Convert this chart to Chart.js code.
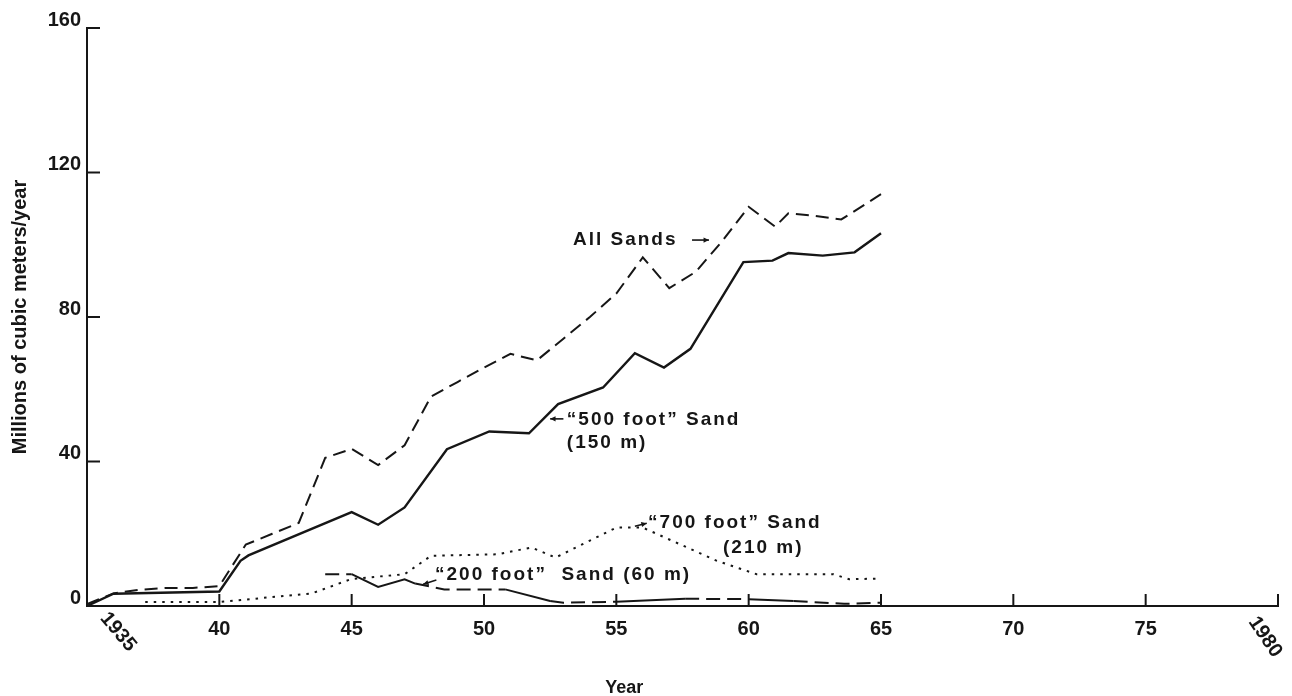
<!DOCTYPE html>
<html><head><meta charset="utf-8">
<script src="https://cdn.jsdelivr.net/npm/chart.js@4.4.1/dist/chart.umd.min.js"></script>
<style>html,body{margin:0;padding:0;background:#fff}#wrap{width:1292px;height:696px;position:relative}</style>
</head><body><div id="wrap"><canvas id="c"></canvas></div>
<script>
// ---- data ----
const xTickYears = [1935, 1940, 1945, 1950, 1955, 1960, 1965, 1970, 1975, 1980];
const yTickValues = [0, 40, 80, 120, 160];

const allSandsYears  = [1935, 1936, 1937, 1938, 1939, 1940, 1941, 1942, 1943, 1944, 1945, 1946, 1947, 1948, 1949, 1950, 1951, 1952, 1953, 1954, 1955, 1956, 1957, 1958, 1959, 1960, 1961, 1961.5, 1962.5, 1963.5, 1965];
const allSandsValues = [0.5, 3.5, 4.5, 5, 5, 5.5, 17, 20, 23, 41, 43.5, 39, 44.5, 58, 62, 66, 69.8, 68, 74, 80, 86.5, 96.5, 88, 92.5, 101, 110.5, 105, 108.7, 108, 107, 114];

const sand500Years  = [1935, 1936, 1940, 1940.8, 1941.1, 1945, 1946, 1947, 1948.6, 1950.2, 1951.7, 1952.8, 1954.5, 1955.7, 1956.8, 1957.8, 1959.8, 1960.9, 1961.5, 1962.8, 1964, 1965];
const sand500Values = [0, 3.4, 4, 12.5, 14, 26, 22.5, 27.3, 43.4, 48.3, 47.8, 55.9, 60.5, 70, 66, 71.2, 95.2, 95.6, 97.7, 97, 97.9, 103.2];

const sand700Years  = [1937.2, 1940, 1943.5, 1945, 1947, 1948, 1950.5, 1951.8, 1952.7, 1955, 1956, 1958.8, 1960.3, 1963.2, 1963.8, 1965];
const sand700Values = [1.1, 1.1, 3.5, 7.5, 8.8, 13.9, 14.3, 16.2, 13.4, 21.7, 21.7, 12.5, 8.8, 8.8, 7.4, 7.6];

const sand200Years  = [1944, 1945, 1946, 1947, 1947.4, 1948.5, 1950.8, 1952.5, 1953, 1955, 1957.6, 1960, 1961.7, 1963.6, 1965];
const sand200Values = [8.8, 8.8, 5.3, 7.4, 6.2, 4.6, 4.6, 1.4, 0.9, 1.2, 2.0, 1.9, 1.4, 0.6, 0.9];

const seriesNames = ['All Sands', '“500 foot” Sand (150 m)', '“700 foot” Sand (210 m)', '“200 foot” Sand (60 m)'];
const xTitle = 'Year';
const yTitle = 'Millions of cubic meters/year';

// ---- helpers ----
const pts = (xs, ys) => xs.map((x, i) => ({x, y: ys[i]}));
const INK = '#161616';
const FONT = "'Liberation Sans', Arial, Helvetica, sans-serif";

// annotation layout (in data coordinates)
const notes = [
  {lines: ['All Sands'], x: 1953.36, y: 101.3, arrow: [1957.86, 101.3, 1958.5, 101.3]},
  {lines: ['“500 foot” Sand', '(150 m)'], x: 1953.13, y: 51.5, dy: 6.4, arrow: [1953.0, 51.8, 1952.5, 51.8]},
  {lines: ['“700 foot” Sand', '(210 m)'], x: 1956.2, y: 23.0, dy: 6.8, second: 1959.03, arrow: [1955.7, 22.1, 1956.15, 22.9]},
  {lines: ['“200 foot”  Sand (60 m)'], x: 1948.15, y: 8.6, arrow: [1948.2, 7.2, 1947.7, 6.0]}
];

const decor = {
  id: 'decor',
  afterDatasetsDraw(chart) {
    const {ctx, chartArea: a, scales: {x, y}} = chart;
    ctx.save();
    ctx.strokeStyle = INK; ctx.fillStyle = INK; ctx.lineWidth = 2;
    // inner tick marks
    x.ticks.forEach(t => {
      if (t.value === 1935) return;
      const px = x.getPixelForValue(t.value);
      ctx.beginPath(); ctx.moveTo(px, a.bottom + 1); ctx.lineTo(px, a.bottom - 12); ctx.stroke();
    });
    y.ticks.forEach(t => {
      if (t.value === 0) return;
      const py = y.getPixelForValue(t.value);
      ctx.beginPath(); ctx.moveTo(a.left - 1, py); ctx.lineTo(a.left + 13, py); ctx.stroke();
    });
    // rotated end labels
    ctx.font = 'bold 20px ' + FONT;
    ctx.textAlign = 'center'; ctx.textBaseline = 'middle';
    [[1935, 31, 632, 50], [1980, -13, 637, 56]].forEach(([v, dx, py, ang]) => {
      ctx.save();
      ctx.translate(x.getPixelForValue(v) + dx, py);
      ctx.rotate(ang * Math.PI / 180);
      ctx.fillText(String(v), 0, 0);
      ctx.restore();
    });
    // x-axis title (offset left of centre as in the original)
    ctx.font = 'bold 18px ' + FONT;
    ctx.fillText(xTitle, x.getPixelForValue(1955.3), 688);
    // annotations
    ctx.font = 'bold 19px ' + FONT;
    try { ctx.letterSpacing = '2px'; } catch (e) {}
    ctx.textAlign = 'left';
    notes.forEach(n => {
      n.lines.forEach((s, i) => {
        const lx = (i === 1 && n.second) ? n.second : n.x;
        ctx.fillText(s, x.getPixelForValue(lx), y.getPixelForValue(n.y - i * (n.dy || 0)));
      });
      if (n.arrow) {
        const [x0, y0, x1, y1] = n.arrow;
        const ax = x.getPixelForValue(x0), ay = y.getPixelForValue(y0);
        const bx = x.getPixelForValue(x1), by = y.getPixelForValue(y1);
        ctx.lineWidth = 1.6;
        ctx.beginPath(); ctx.moveTo(ax, ay); ctx.lineTo(bx, by); ctx.stroke();
        const ang = Math.atan2(by - ay, bx - ax);
        ctx.beginPath();
        ctx.moveTo(bx, by);
        ctx.lineTo(bx - 6 * Math.cos(ang - 0.45), by - 6 * Math.sin(ang - 0.45));
        ctx.lineTo(bx - 6 * Math.cos(ang + 0.45), by - 6 * Math.sin(ang + 0.45));
        ctx.closePath(); ctx.fill();
      }
    });
    ctx.restore();
  }
};

const solid200 = [[1945, 1947.4], [1950.8, 1952.5], [1955, 1957.6], [1960, 1961.7]];

new Chart(document.getElementById('c'), {
  type: 'line',
  data: {
    datasets: [
      {label: seriesNames[0], data: pts(allSandsYears, allSandsValues), borderColor: INK, borderWidth: 2, borderDash: [13, 7], pointRadius: 0, tension: 0},
      {label: seriesNames[1], data: pts(sand500Years, sand500Values), borderColor: INK, borderWidth: 2.4, pointRadius: 0, tension: 0},
      {label: seriesNames[2], data: pts(sand700Years, sand700Values), borderColor: INK, borderWidth: 2, borderDash: [2.5, 6], pointRadius: 0, tension: 0},
      {label: seriesNames[3], data: pts(sand200Years, sand200Values), borderColor: INK, borderWidth: 2, borderDash: [14, 7], pointRadius: 0, tension: 0,
        segment: {borderDash: c => solid200.some(([s, e]) => c.p0.parsed.x >= s - 0.01 && c.p0.parsed.x < e - 0.01) ? [] : undefined}}
    ]
  },
  options: {
    responsive: true, maintainAspectRatio: false, animation: false,
    layout: {padding: {top: 28, right: 14, left: 0, bottom: 0}},
    plugins: {legend: {display: false}, tooltip: {enabled: false}},
    scales: {
      x: {
        type: 'linear', min: 1935, max: 1980,
        afterBuildTicks: s => { s.ticks = xTickYears.map(v => ({value: v})); },
        afterFit: s => { s.height = 90; },
        grid: {display: false, drawTicks: false},
        border: {display: true, color: INK, width: 2},
        ticks: {padding: 11, color: INK, font: {family: FONT, size: 20, weight: 'bold'}, maxRotation: 0, autoSkip: false,
          callback: v => (v === 1935 || v === 1980) ? '' : String(v).slice(2)},
        title: {display: false, text: xTitle}
      },
      y: {
        type: 'linear', min: 0, max: 160,
        afterBuildTicks: s => { s.ticks = yTickValues.map(v => ({value: v})); },
        afterFit: s => { s.width = 87; },
        grid: {display: false, drawTicks: false},
        border: {display: true, color: INK, width: 2},
        ticks: {padding: 6, labelOffset: -8, color: INK, font: {family: FONT, size: 20, weight: 'bold'}},
        title: {display: true, text: yTitle, color: INK, font: {family: FONT, size: 20, weight: 'bold'}, padding: {top: 8, bottom: 0}}
      }
    }
  },
  plugins: [decor]
});
</script></body></html>
